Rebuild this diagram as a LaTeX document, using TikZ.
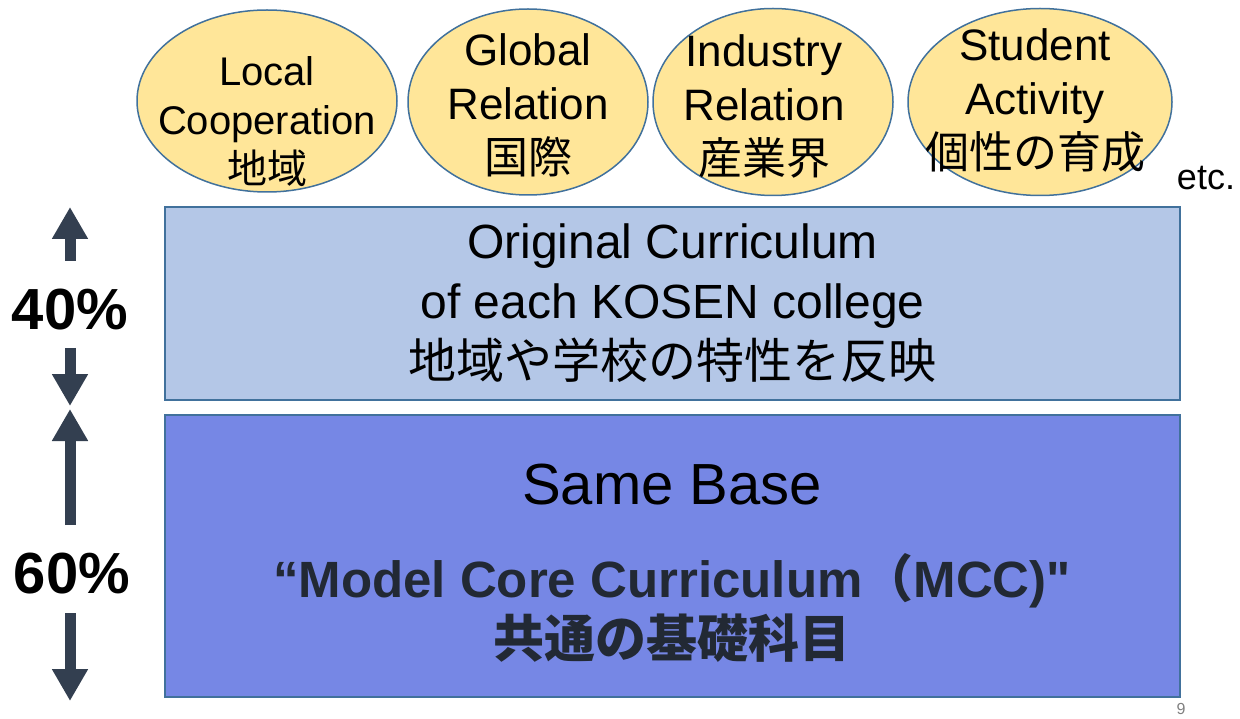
\documentclass[tikz,border=0pt]{standalone}
\usepackage{fontspec}
\setmainfont{Liberation Sans}
\newfontfamily\rawsans{Liberation Sans}
\newfontfamily\jp{Noto Sans CJK JP}
\usetikzlibrary{shapes.geometric,arrows.meta}
\definecolor{bubblefill}{HTML}{FFE699}
\definecolor{edgeblue}{HTML}{41719C}
\definecolor{ownfill}{HTML}{B4C7E7}
\definecolor{basefill}{HTML}{7687E5}
\definecolor{slate}{HTML}{333F50}
\definecolor{ink}{HTML}{222934}
\tikzset{
  bubble/.style={ellipse,draw=edgeblue,line width=1.5pt,fill=bubblefill,inner sep=0pt},
  bubbletext/.style={align=center,font=\fontsize{44}{54}\selectfont},
  layer/.style={rectangle,draw=edgeblue,line width=2pt,inner sep=0pt,minimum width=1015pt},
  share/.style={font=\fontsize{58}{58}\selectfont\bfseries},
  bigarrow/.style={slate,line width=11pt,-{Triangle[width=34pt,length=32pt]}}
}
\begin{document}
\begin{tikzpicture}[x=1pt,y=-1pt]
  \useasboundingbox (0,0) rectangle (1240,719);
  % bubbles on top
  \node[bubble,minimum width=260pt,minimum height=182pt] (L) at (267,101) {};
  \node[bubble,minimum width=240pt,minimum height=186pt] (G) at (528,102) {};
  \node[bubble,minimum width=240pt,minimum height=187pt] (I) at (773,102) {};
  \node[bubble,minimum width=264pt,minimum height=187pt] (S) at (1040,102) {};
  \node[bubbletext,font=\fontsize{40}{49}\selectfont] (Lt) at (267,122) {Local\\Cooperation\\{\jp 地域}};
  \node[bubbletext] (Gt) at (528,105) {Global\\Relation\\{\jp 国際}};
  \node[bubbletext] (It) at (764,106) {Industry\\Relation\\{\jp 産業界}};
  \node[bubbletext] (St) at (1035,100) {Student\\Activity\\{\jp 個性の育成}};
  \node[font=\fontsize{36}{36}\selectfont] (etc) at (1206,178) {etc.};
  % the two layers
  \node[layer,fill=ownfill,minimum height=193pt,align=center,
        font=\fontsize{48}{60}\selectfont] (own) at (672.5,303.5)
        {Original Curriculum\\of each KOSEN college\\{\jp 地域や学校の特性を反映}};
  \node[layer,fill=basefill,minimum height=282pt] (base) at (672.5,556) {};
  \node[font=\fontsize{58}{58}\selectfont] (same) at (672,485) {Same Base};
  \node[ink,align=center,font=\fontsize{51}{60}\selectfont\bfseries] (mcc) at (672,608)
        {“Model Core Curriculum{\jp （}MCC){\rawsans\bfseries "}\\{\jp 共通の基礎科目}};
  % shares on the left
  \node[share] (p40) at (70,310) {40\%};
  \node[share] (p60) at (72,574) {60\%};
  \coordinate (a1) at (70,261); \coordinate (a1e) at (70,207);
  \coordinate (a2) at (70,348); \coordinate (a2e) at (70,406);
  \coordinate (a3) at (70,525); \coordinate (a3e) at (70,409);
  \coordinate (a4) at (70,613); \coordinate (a4e) at (70,701);
  \draw[bigarrow] (a1) -- (a1e);
  \draw[bigarrow] (a2) -- (a2e);
  \draw[bigarrow] (a3) -- (a3e);
  \draw[bigarrow] (a4) -- (a4e);
  \node[gray,font=\fontsize{16}{16}\selectfont] (pg) at (1181,709) {9};
\end{tikzpicture}
\end{document}
